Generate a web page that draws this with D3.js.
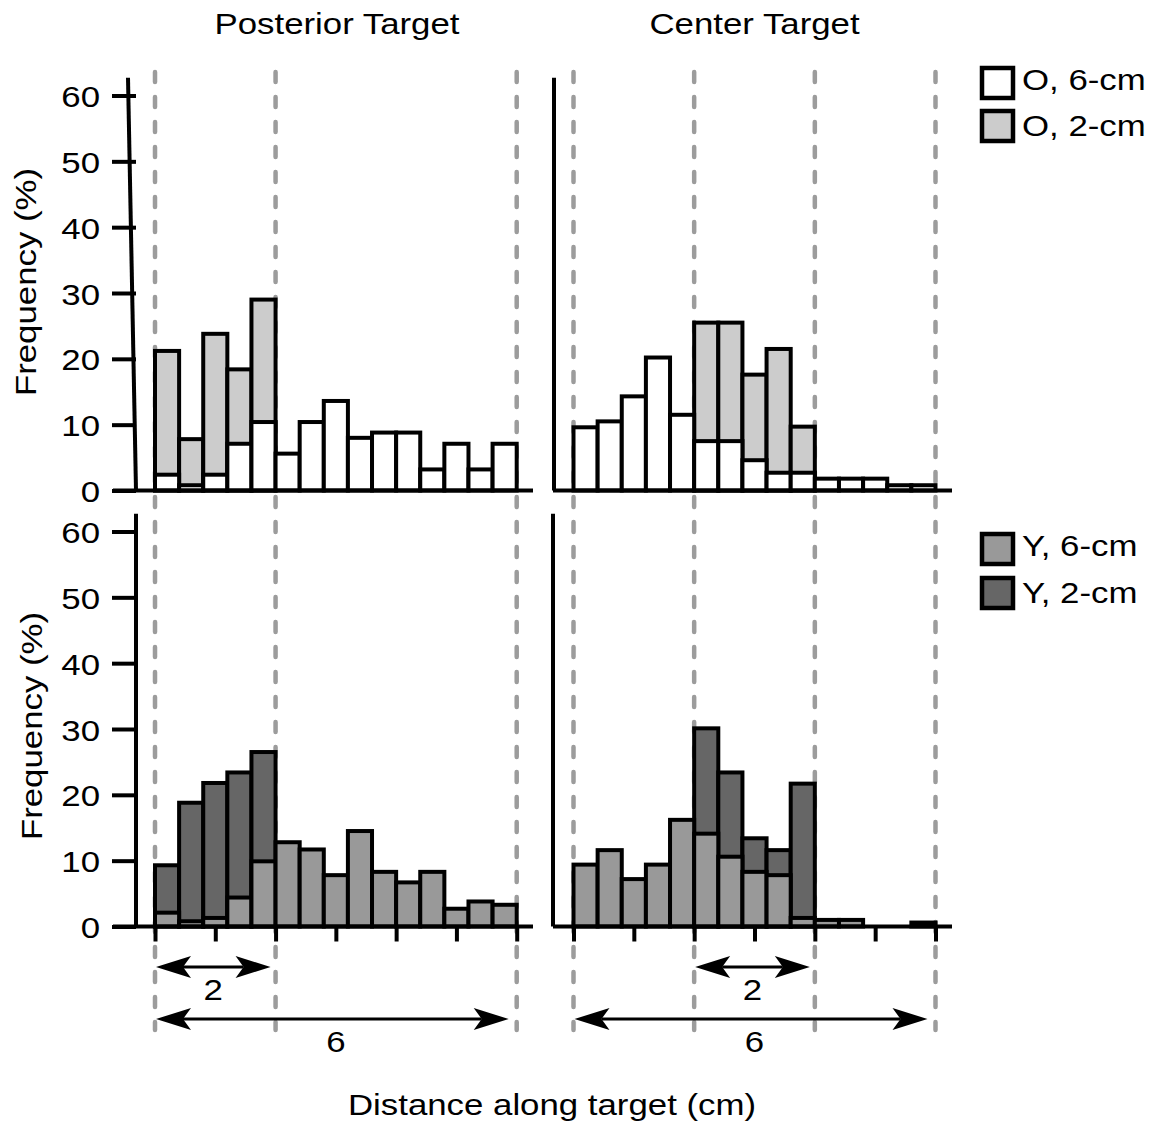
<!DOCTYPE html>
<html>
<head>
<meta charset="utf-8">
<script src="https://cdn.jsdelivr.net/npm/d3@7"></script>
<style>
  html, body { margin: 0; padding: 0; background: #fff; }
  svg text { font-family: "Liberation Sans", Arial, Helvetica, sans-serif; fill: #000; }
</style>
</head>
<body>
<svg id="chart" width="1158" height="1127"></svg>
<script>
// Histogram bins along the target (cm): 15 bins of 0.4 cm
const binWidth = 0.4;
const binStarts = [0, 0.4, 0.8, 1.2, 1.6, 2.0, 2.4, 2.8, 3.2, 3.6, 4.0, 4.4, 4.8, 5.2, 5.6];

// Frequency (%) per bin — O = older group, Y = younger group
const postO6 = [2.4, 0.8, 2.4, 7.1, 10.4, 5.6, 10.4, 13.6, 8.0, 8.8, 8.8, 3.2, 7.1, 3.2, 7.1];
const postO2 = [21.2, 7.8, 23.8, 18.4, 29.0, 0, 0, 0, 0, 0, 0, 0, 0, 0, 0];
const centO6 = [9.6, 10.5, 14.3, 20.2, 11.5, 7.5, 7.5, 4.6, 2.7, 2.7, 1.8, 1.8, 1.8, 0.8, 0.8];
const centO2 = [0, 0, 0, 0, 0, 25.5, 25.5, 17.6, 21.5, 9.7, 0, 0, 0, 0, 0];
const postY6 = [2.1, 0.8, 1.3, 4.4, 9.9, 12.8, 11.7, 7.8, 14.5, 8.3, 6.7, 8.3, 2.7, 3.8, 3.3];
const postY2 = [9.3, 18.8, 21.8, 23.4, 26.5, 0, 0, 0, 0, 0, 0, 0, 0, 0, 0];
const centY6 = [9.4, 11.6, 7.2, 9.4, 16.2, 14.1, 10.6, 8.3, 7.8, 1.3, 1.0, 1.0, 0, 0, 0.6];
const centY2 = [0, 0, 0, 0, 0, 30.1, 23.4, 13.4, 11.6, 21.7, 0, 0, 0, 0, 0];

// Axis ticks and target boundaries (cm)
const yTicks = [0, 10, 20, 30, 40, 50, 60];
const xTicks = [0, 1, 2, 3, 4, 5, 6];
const postEdges = [0, 2, 6];
const centEdges = [0, 2, 4, 6];
const postArrow2 = [0, 2];
const centArrow2 = [2, 4];
const arrow6 = [0, 6];

const columnTitles = ["Posterior Target", "Center Target"];
const legendTop = ["O, 6-cm", "O, 2-cm"];
const legendBottom = ["Y, 6-cm", "Y, 2-cm"];
const yTitle = "Frequency (%)";
const xTitle = "Distance along target (cm)";

// Styling
const fillO6 = "#ffffff", fillO2 = "#cccccc", fillY6 = "#999999", fillY2 = "#666666";
const FONT = 29.5, STRETCH = 1.18;
const LW = 4;
const yMaxAxis = 62.7;

const svg = d3.select("#chart");
svg.append("rect").attr("width", 1158).attr("height", 1127).attr("fill", "#fff");

const xLeft = d3.scaleLinear([0, 6], [155, 516.7]);
const xRight = d3.scaleLinear([0, 6], [573.5, 935.5]);
const yTop = d3.scaleLinear([0, 60], [490.5, 95.5]);
const yBot = d3.scaleLinear([0, 60], [926.5, 531.5]);

function stretchedText(g, str, x, y, anchor, rotate) {
  return g.append("text")
    .attr("transform", `translate(${x},${y})${rotate ? ` rotate(${rotate})` : ""} scale(${STRETCH},1)`)
    .attr("text-anchor", anchor)
    .attr("font-size", FONT)
    .text(str);
}

// Target boundary dashed lines (span both rows)
const dashG = svg.append("g")
  .attr("stroke", "#9c9c9c").attr("stroke-width", 4.5)
  .attr("stroke-dasharray", "10,15").attr("stroke-linecap", "round");
[[xLeft, postEdges], [xRight, centEdges]].forEach(([x, edges]) => {
  dashG.selectAll(null).data(edges).join("line")
    .attr("x1", d => x(d)).attr("x2", d => x(d))
    .attr("y1", 72).attr("y2", 1030);
});

// Panels
const panels = [
  { x: xLeft, y: yTop, back: postO2, front: postO6, backFill: fillO2, frontFill: fillO6, axisX: 136, slant: 8, labels: true, xticks: false, baseX: [113, 533] },
  { x: xRight, y: yTop, back: centO2, front: centO6, backFill: fillO2, frontFill: fillO6, axisX: 554, slant: 0, labels: false, xticks: false, baseX: [553, 952] },
  { x: xLeft, y: yBot, back: postY2, front: postY6, backFill: fillY2, frontFill: fillY6, axisX: 136, slant: 0, labels: true, xticks: true, baseX: [113, 533] },
  { x: xRight, y: yBot, back: centY2, front: centY6, backFill: fillY2, frontFill: fillY6, axisX: 553, slant: 0, labels: false, xticks: true, baseX: [553, 952] }
];

panels.forEach(p => {
  const g = svg.append("g");
  // 2-cm histogram behind, 6-cm histogram overlaid in front
  const layers = [[p.back, p.backFill], [p.front, p.frontFill]];
  layers.forEach(([vals, fill]) => {
    const data = binStarts.map((b, i) => ({ b, v: vals[i] })).filter(d => d.v > 0);
    g.append("g").selectAll("rect").data(data).join("rect")
      .attr("x", d => p.x(d.b))
      .attr("width", d => p.x(d.b + binWidth) - p.x(d.b))
      .attr("y", d => p.y(d.v))
      .attr("height", d => p.y(0) - p.y(d.v))
      .attr("fill", fill)
      .attr("stroke", "#000")
      .attr("stroke-width", LW);
  });

  // baseline
  g.append("line")
    .attr("x1", p.baseX[0]).attr("x2", p.baseX[1])
    .attr("y1", p.y(0)).attr("y2", p.y(0))
    .attr("stroke", "#000").attr("stroke-width", LW);

  // vertical axis line
  g.append("line")
    .attr("x1", p.axisX - p.slant).attr("y1", p.y(yMaxAxis))
    .attr("x2", p.axisX).attr("y2", p.y(0))
    .attr("stroke", "#000").attr("stroke-width", LW);

  if (p.labels) {
    const ax = g.append("g")
      .attr("transform", `translate(${p.axisX},0)`)
      .call(d3.axisLeft(p.y).tickValues(yTicks).tickSize(24).tickPadding(0));
    ax.select(".domain").remove();
    ax.selectAll(".tick line").attr("stroke", "#000").attr("stroke-width", LW);
    ax.selectAll(".tick text")
      .attr("x", 0).attr("dy", null)
      .attr("font-size", FONT)
      .attr("font-family", "\"Liberation Sans\", Arial, sans-serif")
      .attr("text-anchor", "end")
      .attr("fill", "#000")
      .attr("transform", `translate(${100 - p.axisX},11) scale(${STRETCH},1)`);
  }

  if (p.xticks) {
    const bx = g.append("g")
      .attr("transform", `translate(0,${p.y(0)})`)
      .call(d3.axisBottom(p.x).tickValues(xTicks).tickSize(15).tickFormat(""));
    bx.select(".domain").remove();
    bx.selectAll(".tick line").attr("stroke", "#000").attr("stroke-width", LW);
  }
});

// Dimension arrows under the bottom row
function arrow(g, xa, xb, y) {
  const len = 35, half = 11, notch = 27;
  g.append("line").attr("x1", xa + notch).attr("x2", xb - notch)
    .attr("y1", y).attr("y2", y).attr("stroke", "#000").attr("stroke-width", 3);
  const head = (tip, dir) =>
    `M${tip},${y}L${tip + dir * len},${y - half}L${tip + dir * notch},${y}L${tip + dir * len},${y + half}Z`;
  g.append("path").attr("d", head(xa, 1)).attr("fill", "#000");
  g.append("path").attr("d", head(xb, -1)).attr("fill", "#000");
}
const arrowG = svg.append("g");
[[xLeft, postArrow2], [xRight, centArrow2]].forEach(([x, span]) => {
  const a = x(span[0]) + 1, b = x(span[1]) - 5;
  arrow(arrowG, a, b, 967);
  stretchedText(arrowG, String(span[1] - span[0]), (x(span[0]) + x(span[1])) / 2 - 2, 1000, "middle");
});
[xLeft, xRight].forEach(x => {
  const a = x(arrow6[0]) + 1, b = x(arrow6[1]) - 8;
  arrow(arrowG, a, b, 1019);
  stretchedText(arrowG, String(arrow6[1] - arrow6[0]), (x(arrow6[0]) + x(arrow6[1])) / 2, 1052, "middle");
});

// Titles
const textG = svg.append("g");
stretchedText(textG, columnTitles[0], 337, 34, "middle");
stretchedText(textG, columnTitles[1], 754.5, 34, "middle");
stretchedText(textG, xTitle, 552, 1115, "middle");
stretchedText(textG, yTitle, 36, 282, "middle", -90);
stretchedText(textG, yTitle, 42, 726, "middle", -90);

// Legends
function legend(items, fills, top, step) {
  const lg = svg.append("g");
  items.forEach((label, i) => {
    const y0 = top + i * step;
    lg.append("rect")
      .attr("x", 982).attr("y", y0).attr("width", 31).attr("height", 30)
      .attr("fill", fills[i]).attr("stroke", "#000").attr("stroke-width", 4.5);
    stretchedText(lg, label, 1022, y0 + 22 + i * 3, "start");
  });
}
legend(legendTop, [fillO6, fillO2], 68, 43);
legend(legendBottom, [fillY6, fillY2], 534, 44);
</script>
</body>
</html>
